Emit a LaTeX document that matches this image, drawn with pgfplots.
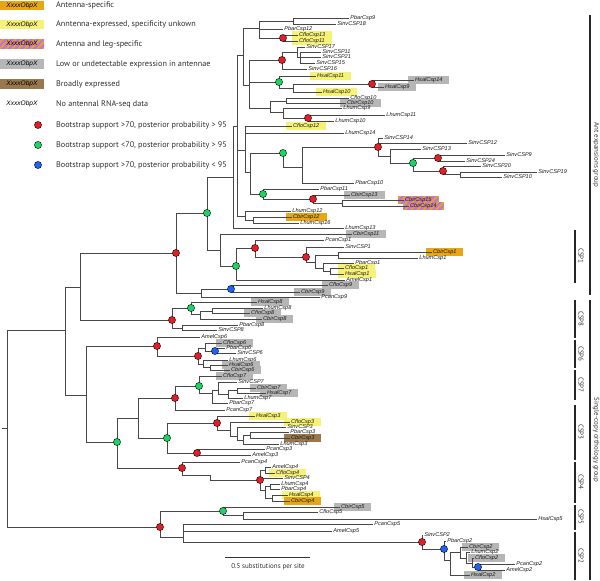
\documentclass[border=0pt]{standalone}
\usepackage{pgfplots}
\pgfplotsset{compat=1.18}
\usetikzlibrary{patterns.meta}
\usepackage{fontspec}
\setmainfont{PT Sans}
\newfontfamily\lbf{Liberation Sans}
\definecolor{cred}{RGB}{228,30,38}
\definecolor{cgreen}{RGB}{30,210,100}
\definecolor{cblue}{RGB}{30,100,240}
\definecolor{corange}{RGB}{232,165,20}
\definecolor{cyellow}{RGB}{246,242,120}
\definecolor{cgray}{RGB}{182,182,182}
\definecolor{cbrown}{RGB}{152,120,76}
\definecolor{cpurple}{RGB}{190,110,245}
\pgfplotsset{br/.style={color=black!72, line width=0.75bp, mark=none}}
\tikzset{
  lab/.style={anchor=west, inner xsep=1.2bp, inner ysep=0.3bp, font=\lbf\itshape\fontsize{5.6}{6}\selectfont, text=black!90},
  hl/.style={inner xsep=7bp, inner ysep=1bp, minimum height=6.8bp, xshift=-6bp},
  stripe/.style={preaction={fill=corange}, pattern={Lines[angle=45,distance=4.4bp,line width=2.2bp]}, pattern color=cpurple},
  leg/.style={anchor=west, font=\fontsize{8.2}{9}\selectfont, text=black!82, inner sep=0pt},
  lbox/.style={minimum width=44bp, minimum height=9.5bp, inner sep=0pt, font=\lbf\itshape\fontsize{6.6}{7}\selectfont},
  grp/.style={rotate=-90, font=\fontsize{7}{8}\selectfont, text=black!80, inner sep=0pt}
}
\newcommand\E[4]{\addplot[br] coordinates {(#1,#2) (#1,#3) (#4,#3)};}
\newcommand\Lf[3]{\node[lab] at (axis cs:#1,#2) {#3};}
\newcommand\Lh[4]{\node[lab,hl,fill=#4] at (axis cs:#1,#2) {#3};}
\newcommand\Ls[3]{\node[lab,hl,stripe] at (axis cs:#1,#2) {#3};}
\newcommand\Bar[3]{\addplot[color=black!85, line width=1.3bp, mark=none] coordinates {(#1,#2) (#1,#3)};}
\begin{document}
\begin{tikzpicture}
\begin{axis}[scale only axis, width=600bp, height=580bp,
  xmin=0, xmax=600, ymin=0, ymax=580, y dir=reverse,
  axis lines=none, ticks=none, clip=false]
\path (rel axis cs:0,0) rectangle (rel axis cs:1,1);
% ---------- legend ----------
\node[lbox,fill=corange] at (axis cs:22,5.5) {XxxxObpX};
\node[lbox,fill=cyellow] at (axis cs:22,24.5) {XxxxObpX};
\node[lbox,stripe] at (axis cs:22,44) {XxxxObpX};
\node[lbox,fill=cgray] at (axis cs:22,64) {XxxxObpX};
\node[lbox,fill=cbrown] at (axis cs:22,84) {XxxxObpX};
\node[lbox] at (axis cs:22,104) {XxxxObpX};
\node[leg] at (axis cs:56,5) {Antenna-specific};
\node[leg] at (axis cs:56,24) {Anntenna-expressed, specificity unkown};
\node[leg] at (axis cs:56,44) {Antenna and leg-specific};
\node[leg] at (axis cs:56,64) {Low or undetectable expression in antennae};
\node[leg] at (axis cs:56,84) {Broadly expressed};
\node[leg] at (axis cs:56,104) {No antennal RNA-seq data};
\node[leg] at (axis cs:56,125) {Bootstrap support >70, posterior probability > 95};
\node[leg] at (axis cs:56,145) {Bootstrap support <70, posterior probability > 95};
\node[leg] at (axis cs:56,165) {Bootstrap support >70, posterior probability < 95};
% ---------- leaf labels ----------
\Lf{349}{18}{PbarCsp9}
\Lf{336}{24}{SinvCSP18}
\Lf{283}{29}{PbarCsp12}
\Lh{298}{35}{CfloCsp13}{cyellow}
\Lh{298}{41}{CfloCsp11}{cyellow}
\Lf{305}{47}{SinvCSP17}
\Lf{321}{52}{SinvCSP11}
\Lf{321}{57}{SinvCSP21}
\Lf{315}{63}{SinvCSP15}
\Lf{307}{69}{SinvCSP16}
\Lh{316}{76}{HsalCsp11}{cyellow}
\Lh{414}{80}{HsalCsp14}{cgray}
\Lh{384}{87}{HsalCsp9}{cgray}
\Lh{322}{92}{HsalCsp10}{cyellow}
\Lf{349}{98}{CfloCsp10}
\Lh{346}{103}{CbirCsp10}{cgray}
\Lf{342}{108}{LhumCsp9}
\Lf{385}{115}{LhumCsp11}
\Lf{334}{121}{LhumCsp10}
\Lh{292}{126}{CfloCsp12}{cyellow}
\Lf{344}{133}{LhumCsp14}
\Lf{383}{138}{SinvCSP14}
\Lf{467}{143}{SinvCSP12}
\Lf{421}{149}{SinvCSP13}
\Lf{505}{155}{SinvCSP9}
\Lf{465}{161}{SinvCSP24}
\Lf{481}{166}{SinvCSP20}
\Lf{537}{172}{SinvCSP19}
\Lf{502}{177}{SinvCSP10}
\Lf{354}{183}{PbarCsp10}
\Lf{319}{189}{PbarCsp11}
\Lh{350}{195}{CbirCsp13}{cgray}
\Ls{404}{200}{CbirCsp15}
\Ls{409}{206}{CbirCsp14}
\Lf{291}{211}{LhumCsp12}
\Lh{292}{217}{CbirCsp12}{corange}
\Lf{299}{223}{LhumCsp16}
\Lf{344}{228}{LhumCsp13}
\Lh{352}{234}{CbirCsp11}{cgray}
\Lf{324}{240}{PcanCsp1}
\Lf{344}{247}{SinvCSP1}
\Lh{432}{252}{CbirCsp1}{corange}
\Lf{418}{258}{LhumCsp1}
\Lf{354}{263}{PbarCsp1}
\Lh{344}{268}{CfloCsp1}{cyellow}
\Lh{344}{274}{HsalCsp1}{cyellow}
\Lf{345}{280}{AmelCsp1}
\Lh{328}{285}{CfloCsp9}{cgray}
\Lh{300}{292}{CbirCsp9}{cgray}
\Lf{320}{297}{PcanCsp9}
\Lh{257}{302}{HsalCsp8}{cgray}
\Lf{263}{308}{LhumCsp8}
\Lh{250}{313}{CfloCsp8}{cgray}
\Lh{262}{319}{CbirCsp8}{cgray}
\Lf{238}{325}{PbarCsp8}
\Lf{217}{330}{SinvCSP8}
\Lf{200}{337}{AmelCsp6}
\Lh{222}{343}{CfloCsp6}{cgray}
\Lf{225}{348}{PbarCsp6}
\Lf{236}{353}{SinvCSP6}
\Lf{228}{360}{LhumCsp6}
\Lh{228}{365}{HsalCsp6}{cgray}
\Lh{230}{370}{CbirCsp6}{cgray}
\Lh{222}{376}{CfloCsp7}{cgray}
\Lf{237}{382}{SinvCSP7}
\Lh{256}{388}{CbirCsp7}{cgray}
\Lh{266}{393}{HsalCsp7}{cgray}
\Lf{243}{398}{LhumCsp7}
\Lf{228}{403}{PbarCsp7}
\Lf{225}{410}{PcanCsp7}
\Lh{255}{416}{HsalCsp3}{cyellow}
\Lh{290}{422}{CfloCsp3}{cyellow}
\Lf{286}{427}{SinvCSP3}
\Lf{289}{432}{PbarCsp3}
\Lh{290}{438}{CbirCsp3}{cbrown}
\Lf{279}{444}{LhumCsp3}
\Lf{265}{449}{PcanCsp3}
\Lf{251}{455}{AmelCsp3}
\Lf{240}{462}{PcanCsp4}
\Lf{271}{467}{AmelCsp4}
\Lh{275}{473}{CfloCsp4}{cyellow}
\Lf{283}{478}{SinvCSP4}
\Lf{280}{484}{LhumCsp4}
\Lf{280}{489}{PbarCsp4}
\Lh{288}{495}{HsalCsp4}{cyellow}
\Lh{290}{501}{CbirCsp4}{corange}
\Lh{340}{507}{CbirCsp5}{cgray}
\Lf{318}{512}{CfloCsp5}
\Lf{537}{519}{HsalCsp5}
\Lf{373}{524}{PcanCsp5}
\Lf{332}{531}{AmelCsp5}
\Lf{423}{534}{SinvCSP2}
\Lf{446}{541}{PbarCsp2}
\Lh{468}{547}{CbirCsp2}{cgray}
\Lf{470}{552}{LhumCsp2}
\Lh{474}{558}{CfloCsp2}{cgray}
\Lf{515}{564}{PcanCsp2}
\Lf{505}{570}{AmelCsp2}
\Lh{470}{575}{HsalCsp2}{cgray}
% ---------- branches ----------
\addplot[br] coordinates {(2,428) (7,428)};
\E{7}{428}{330}{65} \E{7}{428}{527}{160}
\E{65}{330}{287}{80} \E{65}{330}{395}{86}
\E{80}{287}{253}{176} \E{80}{287}{320}{172}
\E{176}{253}{213}{207} \E{176}{253}{293}{201}
\E{201}{293}{289}{231} \E{201}{293}{297}{320}
\E{231}{289}{285}{328} \E{231}{289}{292}{300}
\E{207}{213}{177}{233} \E{207}{213}{250}{220}
\E{220}{250}{234}{352} \E{220}{250}{266}{236}
\E{236}{266}{248}{255} \E{236}{266}{280}{345}
\E{255}{248}{240}{324} \E{255}{248}{257}{306}
\E{306}{257}{247}{344} \E{306}{257}{262}{315}
\E{315}{262}{255}{338} \E{315}{262}{268}{323}
\E{338}{255}{252}{432} \E{338}{255}{258}{418}
\E{323}{268}{263}{354} \E{323}{268}{271}{330}
\E{330}{271}{268}{344} \E{330}{271}{274}{344}
% ant expansion group
\E{233}{177}{126}{237} \E{233}{177}{228}{344}
\E{237}{126}{55}{243} \E{237}{126}{150}{245} \E{237}{126}{216}{245}
\E{243}{55}{28}{259} \E{243}{55}{85}{249}
\E{259}{28}{21}{293} \E{259}{28}{29}{283} \E{259}{28}{38}{283}
\E{293}{21}{18}{349} \E{293}{21}{24}{336}
\E{283}{38}{35}{298} \E{283}{38}{41}{298}
\E{249}{85}{60}{282} \E{249}{85}{82}{279} \E{249}{85}{108}{270}
\E{282}{60}{52}{297} \E{282}{60}{69}{307}
\E{297}{52}{47}{305} \E{297}{52}{57}{300}
\E{300}{57}{52}{321} \E{300}{57}{57}{321} \E{300}{57}{63}{315}
\E{279}{82}{76}{316} \E{279}{82}{88}{293}
\E{293}{88}{84}{372} \E{293}{88}{92}{322}
\E{372}{84}{80}{414} \E{372}{84}{87}{384}
\E{270}{108}{101}{286} \E{270}{108}{112}{283}
\E{286}{101}{98}{349} \E{286}{101}{103}{346}
\E{283}{112}{108}{342} \E{283}{112}{118}{308}
\E{308}{118}{115}{385} \E{308}{118}{121}{334}
\E{245}{150}{126}{292} \E{245}{150}{133}{344} \E{245}{150}{172}{250}
\E{250}{172}{153}{283} \E{250}{172}{194}{263}
\E{283}{153}{167}{302}
\E{302}{167}{147}{378} \E{302}{167}{183}{354}
\E{378}{147}{138}{383} \E{378}{147}{143}{467} \E{378}{147}{156}{390}
\E{390}{156}{149}{421} \E{390}{156}{163}{413}
\E{413}{163}{158}{438} \E{413}{163}{171}{443}
\E{438}{158}{155}{505} \E{438}{158}{161}{465}
\E{443}{171}{166}{481} \E{443}{171}{174}{460}
\E{460}{174}{172}{537} \E{460}{174}{177}{502}
\E{263}{194}{189}{319} \E{263}{194}{199}{313}
\E{313}{199}{195}{350} \E{313}{199}{203}{342}
\E{342}{203}{200}{404} \E{342}{203}{206}{409}
\E{245}{216}{211}{291} \E{245}{216}{220}{253}
\E{253}{220}{217}{292} \E{253}{220}{223}{299}
% CSP8
\E{172}{320}{308}{191} \E{172}{320}{328}{182}
\E{191}{308}{302}{257} \E{191}{308}{314}{200}
\E{200}{314}{311}{212} \E{200}{314}{319}{262}
\E{212}{311}{308}{263} \E{212}{311}{313}{250}
\E{182}{328}{325}{238} \E{182}{328}{330}{217}
% CSP6
\E{86}{395}{346}{157} \E{86}{395}{442}{117}
\E{157}{346}{337}{200} \E{157}{346}{356}{198}
\E{198}{356}{348}{205} \E{198}{356}{364}{203}
\E{205}{348}{343}{222} \E{205}{348}{351}{215}
\E{215}{351}{348}{225} \E{215}{351}{353}{236}
\E{203}{364}{360}{228} \E{203}{364}{367}{210}
\E{210}{367}{365}{228} \E{210}{367}{370}{230}
% CSP7, CSP3, CSP4
\E{117}{442}{418}{138} \E{117}{442}{468}{182}
\E{138}{418}{398}{175} \E{138}{418}{438}{167}
\E{175}{398}{386}{199} \E{175}{398}{410}{225}
\E{199}{386}{376}{222} \E{199}{386}{393}{212}
\E{212}{393}{390}{218} \E{212}{393}{403}{228}
\E{218}{390}{382}{237} \E{218}{390}{394}{228}
\E{228}{394}{390}{237} \E{228}{394}{398}{243}
\E{237}{390}{388}{256} \E{237}{390}{393}{266}
\E{167}{438}{423}{217} \E{167}{438}{453}{197}
\E{217}{423}{416}{255} \E{217}{423}{430}{230}
\E{230}{430}{422}{290} \E{230}{430}{436}{237}
\E{237}{436}{427}{286} \E{237}{436}{440}{243}
\E{243}{440}{435}{250} \E{243}{440}{444}{279}
\E{250}{435}{432}{289} \E{250}{435}{438}{290}
\E{197}{453}{449}{265} \E{197}{453}{455}{251}
\E{182}{468}{462}{240} \E{182}{468}{475}{210}
\E{210}{475}{480}{260}
\E{260}{480}{470}{265} \E{260}{480}{478}{283} \E{260}{480}{490}{265}
\E{265}{470}{467}{271} \E{265}{470}{473}{275}
\E{265}{490}{486}{270} \E{265}{490}{498}{272}
\E{270}{486}{484}{280} \E{270}{486}{489}{280}
\E{272}{498}{495}{288} \E{272}{498}{501}{290}
% CSP5, CSP2
\E{160}{527}{511}{223} \E{160}{527}{537}{183}
\E{223}{511}{507}{340} \E{223}{511}{515}{243}
\E{243}{515}{512}{318} \E{243}{515}{519}{537}
\E{183}{537}{524}{373} \E{183}{537}{531}{332} \E{183}{537}{542}{422}
\E{422}{542}{535}{422} \E{422}{542}{549}{444}
\E{444}{549}{541}{446} \E{444}{549}{560}{450}
\E{450}{560}{552}{460} \E{450}{560}{575}{470}
\E{460}{552}{547}{468} \E{460}{552}{558}{466}
\E{466}{558}{552}{470} \E{466}{558}{563}{472}
\E{472}{563}{558}{474} \E{472}{563}{567}{478}
\E{478}{567}{564}{515} \E{478}{567}{570}{505}
% ---------- support dots ----------
\addplot[only marks, mark=*, mark size=3.6, mark options={draw=none, fill=cred}] coordinates {
(176,253) (172,320) (157,346) (198,356) (175,398) (217,423) (197,453) (182,468) (260,480) (160,527) (422,542)
(283,38) (282,60) (372,84) (308,118) (378,147) (438,158) (443,171) (313,199) (255,248) (306,257) (38,125)};
\addplot[only marks, mark=*, mark size=3.6, mark options={draw=none, fill=cgreen}] coordinates {
(207,213) (236,266) (191,308) (199,386) (167,438) (117,442) (223,511) (279,82) (283,153) (263,194) (413,163) (38,145)};
\addplot[only marks, mark=*, mark size=3.6, mark options={draw=none, fill=cblue}] coordinates {
(231,289) (215,351) (444,549) (478,567) (38,165)};
% ---------- scale bar ----------
\addplot[color=black!80, line width=0.8bp, mark=none] coordinates {(225,557) (310,557)};
\node[font=\fontsize{7}{8}\selectfont, text=black!82] at (axis cs:268,567) {0.5 substitutions per site};
% ---------- group brackets ----------
\Bar{590}{15}{295}
\Bar{590}{300}{580}
\Bar{575}{230}{283}
\Bar{575}{300}{338}
\Bar{575}{340}{368}
\Bar{575}{370}{400}
\Bar{575}{405}{460}
\Bar{575}{462}{503}
\Bar{575}{505}{530}
\Bar{575}{532}{580}
\node[grp] at (axis cs:596,155) {Ant expansions group};
\node[grp] at (axis cs:596,440) {Single-copy orthology group};
\node[grp] at (axis cs:581,256) {CSP1};
\node[grp] at (axis cs:581,319) {CSP8};
\node[grp] at (axis cs:581,354) {CSP6};
\node[grp] at (axis cs:581,385) {CSP7};
\node[grp] at (axis cs:581,432) {CSP3};
\node[grp] at (axis cs:581,482) {CSP4};
\node[grp] at (axis cs:581,517) {CSP5};
\node[grp] at (axis cs:581,556) {CSP2};
\end{axis}
\end{tikzpicture}
\end{document}
